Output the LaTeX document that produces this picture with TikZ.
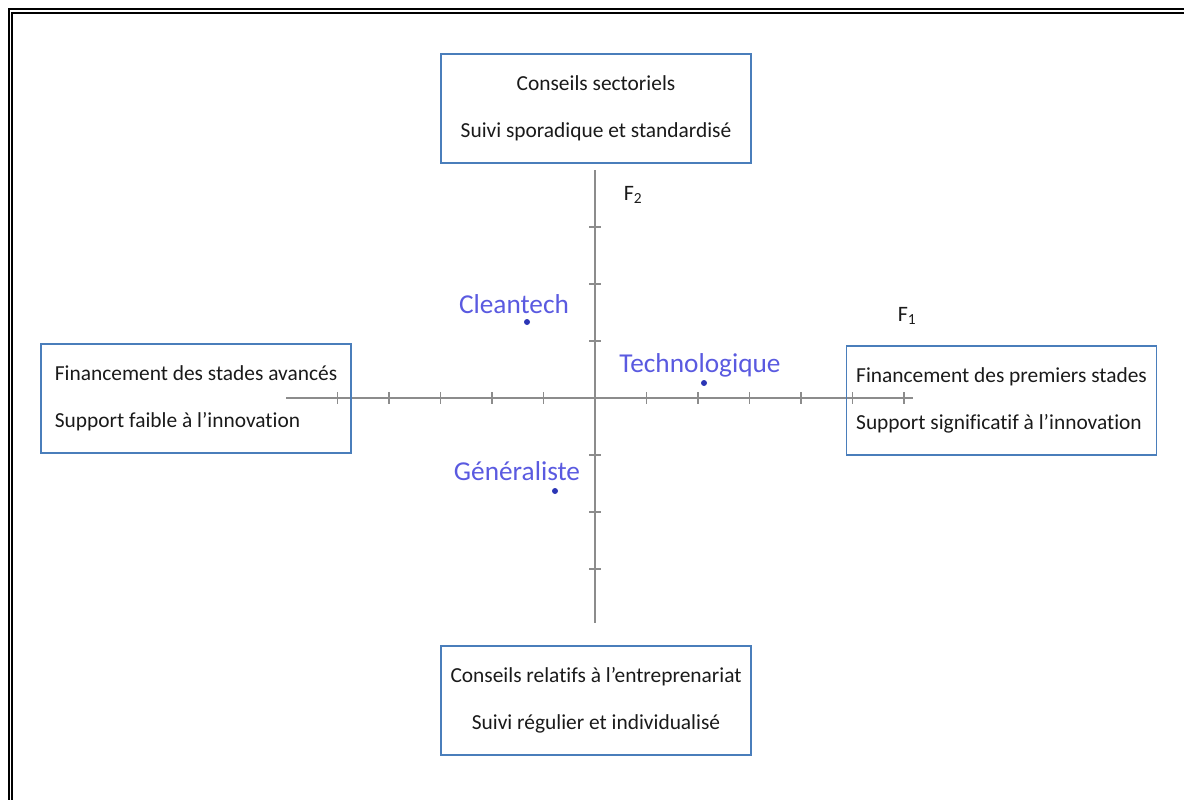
\documentclass[tikz,border=0pt]{standalone}
\usepackage{fontspec}
\setmainfont{Carlito}[Ligatures=CommonOff]
\definecolor{boxblue}{HTML}{4A7EBB}
\definecolor{axisgray}{HTML}{8C8C8C}
\definecolor{dotblue}{HTML}{2B35B5}
\definecolor{labblue}{HTML}{5A5AE0}
\definecolor{txt}{HTML}{1A1A1A}
\begin{document}
\begin{tikzpicture}[x=1pt,y=-1pt,
  box/.style={draw=boxblue,line width=1.5pt,minimum width=310pt,minimum height=109pt,inner sep=0pt,font=\fontsize{21.4}{47}\selectfont,text=txt},
  axis/.style={draw=axisgray,line width=1.5pt},
  tick/.style={draw=axisgray,line width=1.2pt},
  pt/.style={circle,fill=dotblue,inner sep=0pt,minimum size=6pt},
  lab/.style={text=labblue,font=\fontsize{27.3}{27.3}\selectfont,inner sep=0pt},
  flab/.style={text=txt,font=\fontsize{22}{22}\selectfont,inner sep=0pt}]
\useasboundingbox (0,0) rectangle (1184,800);
% frame
\draw[line width=2pt] (8.5,9) rectangle (1210,830);
\draw[line width=1.5pt] (12,13) rectangle (1210,830);
% axes
\coordinate (xl) at (286,398);
\coordinate (xr) at (913,398);
\coordinate (yt) at (595,170);
\coordinate (yb) at (595,623);
\draw[axis] (xl) -- (xr);
\draw[axis] (yt) -- (yb);
\foreach \x in {337.5,389,440.5,492,543.5,646.5,698,749.5,801,852.5,904}
  \draw[tick] (\x,392) -- (\x,404);
\foreach \y in {227,284,341,455,512,569}
  \draw[tick] (589,\y) -- (601,\y);
% boxes
\node[box,align=center] (top) at (596,108.5) {Conseils sectoriels\\Suivi sporadique et standardisé};
\node[box,align=left] (left) at (196,398.5) {Financement des stades avancés\\Support faible à l’innovation};
\node[box,align=left] (right) at (1001.5,400.5) {Financement des premiers stades\\Support significatif à l’innovation};
\node[box,align=center] (bottom) at (596,700.5) {Conseils relatifs à l’entreprenariat\\Suivi régulier et individualisé};
% axis labels
\node[flab] (f2) at (633,195) {F\textsubscript{2}};
\node[flab] (f1) at (907,316) {F\textsubscript{1}};
% points
\node[pt] (cdot) at (527,322) {};
\node[lab] (clab) at (514,304) {Cleantech};
\node[pt] (tdot) at (704,383) {};
\node[lab] (tlab) at (700,365) {Technologique};
\node[pt] (gdot) at (555,491) {};
\node[lab] (glab) at (517,471) {Généraliste};
\end{tikzpicture}
\end{document}
